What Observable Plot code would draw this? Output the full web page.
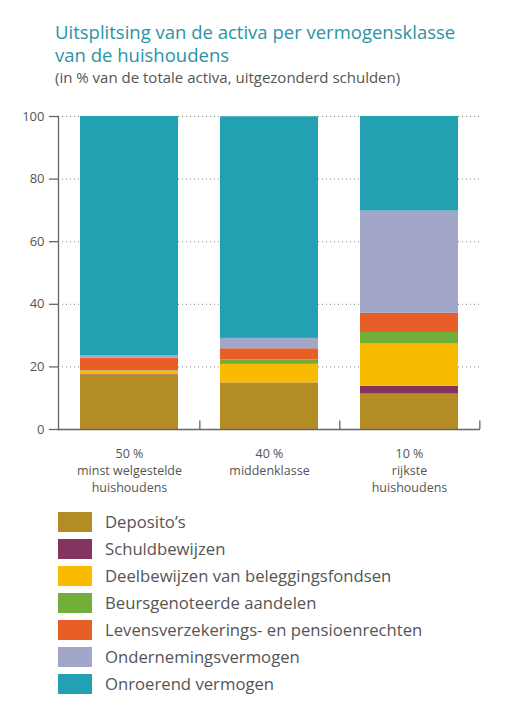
<!DOCTYPE html>
<html>
<head>
<meta charset="utf-8">
<script src="https://cdn.jsdelivr.net/npm/d3@7"></script>
<script src="https://cdn.jsdelivr.net/npm/@observablehq/plot@0.6"></script>
<style>
  body { margin: 0; background: #fff; font-family: "Open Sans", sans-serif; }
  #wrap { width: 511px; }
  h1 { margin: 0; padding: 20px 0 0 55px; font-size: 18.5px; line-height: 23px; font-weight: 400; color: #2b93a3; }
  .sub { padding: 1px 0 0 55px; font-size: 15px; line-height: 20px; color: #555; }
  #chart { margin-top: 13px; }
  #chart svg { display: block; }
  #legend { padding: 12px 0 0 58px; }
  #legend .lg-swatch { padding-bottom: 7px !important; line-height: 20px; }
  #legend .lg-swatch svg { margin-right: 13px !important; }
  #legend .lg-swatch div, #legend .lg-label { overflow: visible !important; }
</style>
</head>
<body>
<div id="wrap">
  <h1>Uitsplitsing van de activa per vermogensklasse<br>van de huishoudens</h1>
  <div class="sub">(in % van de totale activa, uitgezonderd schulden)</div>
  <div id="chart"></div>
  <div id="legend"></div>
</div>
<script>
// vermogensklassen
var groups = ["50 %", "40 %", "10 %"]
var groupNames = ["minst welgestelde\nhuishoudens", "middenklasse", "rijkste\nhuishoudens"]

// soorten activa (onder naar boven)
var assetTypes = [
  "Deposito’s",
  "Schuldbewijzen",
  "Deelbewijzen van beleggingsfondsen",
  "Beursgenoteerde aandelen",
  "Levensverzekerings- en pensioenrechten",
  "Ondernemingsvermogen",
  "Onroerend vermogen"
]
var colors = ["#b38d23", "#84345f", "#f8bb00", "#72ae3a", "#e85e27", "#a2a7c9", "#22a1b3"]

// aandeel in % per klasse
var deposito     = [17.3, 14.9, 11.3]
var schuld       = [0.2, 0, 2.5]
var deelbewijzen = [1.2, 5.9, 13.5]
var aandelen     = [0.1, 1.4, 3.7]
var levens       = [4.0, 3.6, 6.1]
var onderneming  = [0.7, 3.3, 32.7]
var onroerend    = [76.5, 70.8, 30.2]

var yTicks = [0, 20, 40, 60, 80, 100]

var series = [deposito, schuld, deelbewijzen, aandelen, levens, onderneming, onroerend]
var data = []
series.forEach((vals, i) => {
  vals.forEach((v, j) => data.push({groep: groups[j], soort: assetTypes[i], waarde: v}))
})

var width = 511, marginLeft = 58, marginRight = 31
var step = (width - marginLeft - marginRight) / groups.length

var chart = Plot.plot({
  width: width,
  height: 400,
  marginLeft: marginLeft,
  marginRight: marginRight,
  marginTop: 16,
  marginBottom: 71,
  style: { fontFamily: "Open Sans, sans-serif", fontSize: 12, color: "#555", overflow: "visible" },
  x: { domain: groups, paddingInner: 0.3, paddingOuter: 0.15, label: null },
  y: { domain: [0, 100], label: null },
  color: { domain: assetTypes, range: colors },
  marks: [
    Plot.gridY(yTicks, { stroke: "#8a8a8a", strokeOpacity: 1, strokeDasharray: "1,3" }),
    Plot.barY(data, { x: "groep", y: "waarde", fill: "soort" }),
    Plot.frame({ anchor: "left", stroke: "#666", strokeWidth: 1.3 }),
    Plot.ruleY([0], { stroke: "#666", strokeWidth: 1.3 }),
    Plot.ruleX(groups, { x: d => d, dx: step / 2, y1: 0, y2: 2.7, stroke: "#666", strokeWidth: 1.3 }),
    Plot.axisY(yTicks, { tickSize: 9, tickPadding: 5, fontSize: 13, stroke: "#666", strokeWidth: 1.3 }),
    Plot.axisX({
      tickSize: 0, tickPadding: 17, fontSize: 12.5, lineHeight: 1.33,
      tickFormat: d => d + "\n" + groupNames[groups.indexOf(d)]
    })
  ]
})
d3.select("#chart").append(() => chart)

var legend = Plot.legend({
  color: { domain: assetTypes, range: colors },
  legend: "swatches",
  columns: 1,
  swatchWidth: 34,
  swatchHeight: 20,
  className: "lg",
  style: { fontFamily: "Open Sans, sans-serif", fontSize: "16.7px", color: "#555" }
})
d3.select("#legend").append(() => legend)
</script>
</body>
</html>
